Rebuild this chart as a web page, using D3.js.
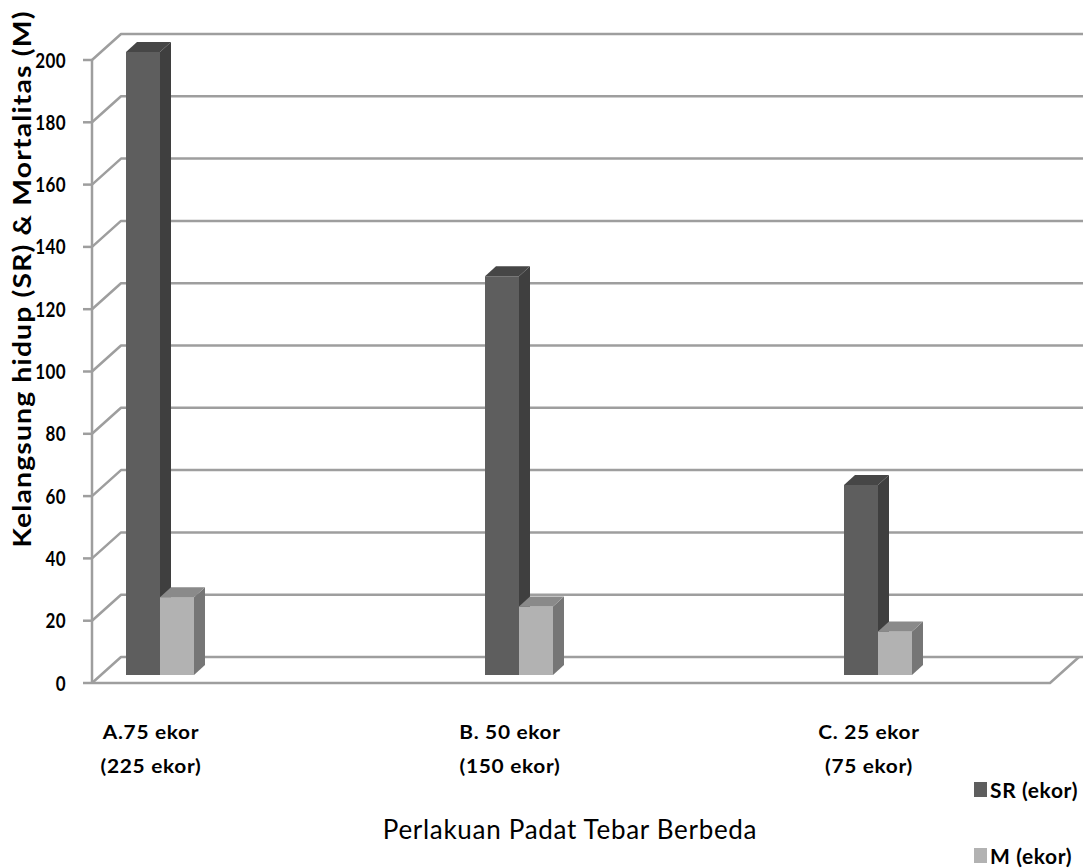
<!DOCTYPE html>
<html>
<head>
<meta charset="utf-8">
<script src="https://cdn.jsdelivr.net/npm/d3@7"></script>
<style>
  html, body { margin: 0; padding: 0; background: #ffffff; }
  svg { display: block; }
  text { font-family: Lato, "Liberation Sans", sans-serif; fill: #000; }
</style>
</head>
<body>
<svg id="chart" width="1083" height="868"></svg>
<script>
// Survival (SR) and mortality (M) counts per stocking density treatment
const categories = ["A.75 ekor", "B. 50 ekor", "C. 25 ekor"];
const categoryTotals = ["(225 ekor)", "(150 ekor)", "(75 ekor)"];
const srValues = [200, 128, 61];
const mValues = [25, 22, 14];
const yTicks = [0, 20, 40, 60, 80, 100, 120, 140, 160, 180, 200];
const seriesNames = ["SR (ekor)", "M (ekor)"];

const svg = d3.select("#chart");

// pseudo-3D box geometry
const frontLeft = 92, frontRight = 1050;
const depthX = 29, depthY = -26;       // wall depth
const barShiftX = 9, barShiftY = -8;   // bars sit slightly inside the floor
const barDepthX = 11, barDepthY = -10; // bar thickness
const barW = 34;

const y = d3.scaleLinear().domain([0, 200]).range([683, 60]);
const x = d3.scalePoint().domain(categories).range([151, 869]);

const gridColor = "#9e9e9e";
const grid = svg.append("g").attr("fill", "none").attr("stroke", gridColor)
  .attr("stroke-width", 2.5).attr("stroke-linejoin", "round");

// back wall gridlines, left wall diagonals and tick marks
yTicks.forEach(v => {
  const fy = y(v);
  grid.append("path")
    .attr("d", `M${frontLeft},${fy} L${frontLeft + depthX},${fy + depthY} L${frontRight + depthX + 5},${fy + depthY}`);
  grid.append("line")
    .attr("x1", frontLeft - 9).attr("x2", frontLeft)
    .attr("y1", fy).attr("y2", fy);
});
// front vertical axis
grid.append("line").attr("x1", frontLeft).attr("x2", frontLeft)
  .attr("y1", y(0)).attr("y2", y(200));
// floor front and right edges
grid.append("path")
  .attr("d", `M${frontLeft},${y(0)} L${frontRight},${y(0)} L${frontRight + depthX},${y(0) + depthY}`);

// bars: front face, side face, top face
const seriesStyle = [
  { values: srValues, front: "#5e5e5e", side: "#3f3f3f", top: "#464646", off: -barW },
  { values: mValues,  front: "#b2b2b2", side: "#767676", top: "#8a8a8a", off: 0 }
];
const bars = svg.append("g");
seriesStyle.forEach(s => {
  categories.forEach((c, i) => {
    const v = s.values[i];
    const x0 = x(c) + barShiftX + s.off;
    const x1 = x0 + barW;
    const yb = y(0) + barShiftY;
    const yt = y(v) + barShiftY;
    const g = bars.append("g");
    g.append("rect").attr("x", x0).attr("y", yt).attr("width", barW).attr("height", yb - yt)
      .attr("fill", s.front);
    g.append("path")
      .attr("d", `M${x1},${yt} L${x1 + barDepthX},${yt + barDepthY} L${x1 + barDepthX},${yb + barDepthY} L${x1},${yb} Z`)
      .attr("fill", s.side);
    g.append("path")
      .attr("d", `M${x0},${yt} L${x0 + barDepthX},${yt + barDepthY} L${x1 + barDepthX},${yt + barDepthY} L${x1},${yt} Z`)
      .attr("fill", s.top);
  });
});

// text helper with optional glyph scaling and letter spacing
function label(parent, tx, ty, str, o) {
  const sx = o.sx || 1, sy = o.sy || 1;
  return parent.append("text")
    .attr("transform", `translate(${tx},${ty}) scale(${sx},${sy})`)
    .attr("text-anchor", o.anchor || "middle")
    .attr("dominant-baseline", "central")
    .attr("font-size", o.size)
    .attr("font-weight", o.weight || 400)
    .attr("letter-spacing", o.ls || 0)
    .text(str);
}

// y tick labels
const tl = svg.append("g");
yTicks.forEach(v => label(tl, 66, y(v), String(v),
  { size: 17, weight: 700, anchor: "end", sy: 1.18, ls: 0.4 }));

// category labels
const cl = svg.append("g");
categories.forEach((c, i) => {
  label(cl, x(c), 732, c, { size: 18.5, weight: 700, sx: 1.13, ls: 0.6 });
  label(cl, x(c), 766, categoryTotals[i], { size: 18.5, weight: 700, sx: 1.13, ls: 0.6 });
});

// axis titles
label(svg, 570, 829, "Perlakuan Padat Tebar Berbeda", { size: 26, weight: 400, ls: 0.7 });
svg.append("text")
  .attr("transform", "translate(22,279) scale(1,1.18) rotate(-90)")
  .attr("text-anchor", "middle")
  .attr("dominant-baseline", "central")
  .attr("font-size", 24)
  .attr("font-weight", 700)
  .attr("letter-spacing", 1)
  .text("Kelangsung hidup (SR) & Mortalitas (M)");

// legend
const lg = svg.append("g");
seriesNames.forEach((n, i) => {
  const ly = 790 + i * 66;
  lg.append("rect").attr("x", 974).attr("y", ly - 8).attr("width", 13).attr("height", 15)
    .attr("fill", seriesStyle[i].front);
  label(lg, 990, ly, n, { size: 20, weight: 700, anchor: "start", sx: 1.05, ls: 0.6 });
});
</script>
</body>
</html>
